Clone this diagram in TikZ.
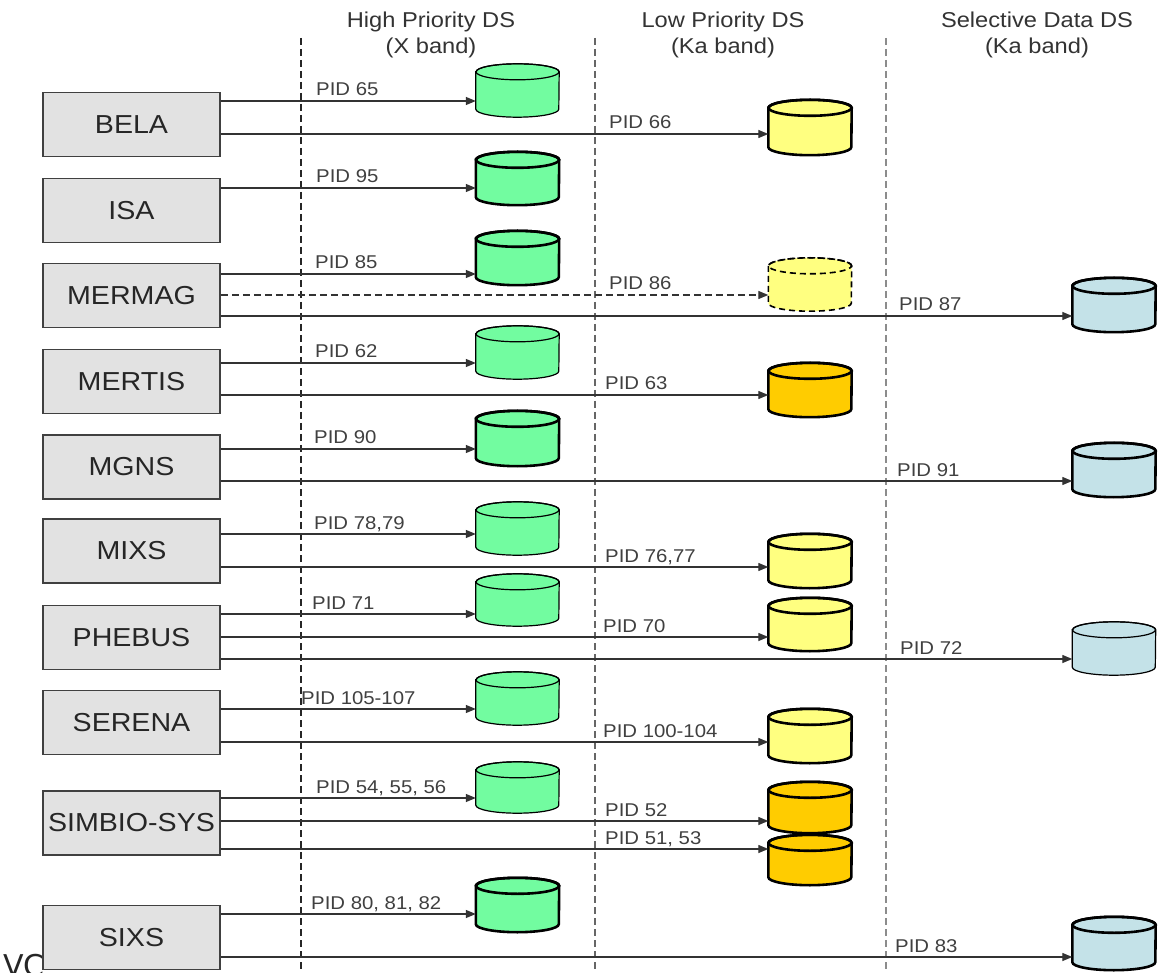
\documentclass[tikz,border=0pt]{standalone}
\usepackage{fontspec}
\setmainfont{Liberation Sans}[FakeStretch=1.1]
\newfontfamily\vcfont{DejaVu Sans}
\usetikzlibrary{arrows.meta,calc,fit}
\definecolor{dsgreen}{RGB}{114,252,160}
\definecolor{dsyellow}{RGB}{255,255,128}
\definecolor{dsorange}{RGB}{255,204,0}
\definecolor{dsblue}{RGB}{196,226,232}
\definecolor{boxgray}{RGB}{226,226,226}
\tikzset{
  instr/.style={draw=black!75, line width=1.5pt, fill=boxgray, minimum width=177pt,
    minimum height=64pt, inner sep=0pt, font=\fontsize{26}{30}\selectfont, text=black!85},
  flow/.style={draw=black!80, line width=1.3pt, -{Triangle[length=10pt,width=8pt]}},
  pid/.style={anchor=base west, inner sep=0pt, font=\fontsize{18.5}{22}\selectfont, text=black!75},
  thincyl/.style={draw=black, line width=1.2pt},
  thickcyl/.style={draw=black, line width=2.6pt},
  dashcyl/.style={draw=black, line width=1.6pt, dash pattern=on 6pt off 4pt},
  sepline/.style={line width=1.3pt, dash pattern=on 7pt off 4pt},
  hdr/.style={align=center, inner sep=0pt, font=\fontsize{21.5}{26}\selectfont, text=black!80}
}
% #1 name, #2 centre x, #3 top y, #4 bottom y, #5 fill, #6 style
\newcommand\dbcyl[6]{%
  \node[fit={(#2-41.5,#3) (#2+41.5,#4)}, inner sep=0pt] (#1) {};
  \draw[#6, fill=#5] ([yshift=-8pt]#1.north west) -- ([yshift=8pt]#1.south west)
    arc[start angle=180, end angle=360, x radius=41.5pt, y radius=8pt]
    -- ([yshift=-8pt]#1.north east)
    arc[start angle=0, end angle=180, x radius=41.5pt, y radius=8pt] -- cycle;
  \draw[#6] ([yshift=-8pt]#1.north) ellipse[x radius=41.5pt, y radius=8pt];
}
% #1 source, #2 target, #3 y, #4 label x, #5 label, #6 label name, #7 extra style
\newcommand\flowline[7]{%
  \draw[flow,#7] (#1.east |- 0,#3) -- (#2.west |- 0,#3);
  \node[pid] (#6) at (#4,#3-5) {#5};
}
\begin{document}
\begin{tikzpicture}[x=1pt,y=-1pt]
\useasboundingbox (0,0) rectangle (1165,973);
\fill[white] (0,0) rectangle (1165,973);

% headers
\node[hdr] (h1) at (431,35) {High Priority DS\\(X band)};
\node[hdr] (h2) at (723,35) {Low Priority DS\\(Ka band)};
\node[hdr] (h3) at (1037,35) {Selective Data DS\\(Ka band)};

% separators
\coordinate (s1t) at (301,38); \coordinate (s1b) at (301,975);
\coordinate (s2t) at (595,38); \coordinate (s2b) at (595,975);
\coordinate (s3t) at (886,38); \coordinate (s3b) at (886,975);
\draw[sepline, draw=black!85] (s1t) -- (s1b);
\draw[sepline, draw=black!60] (s2t) -- (s2b);
\draw[sepline, draw=black!45] (s3t) -- (s3b);

% text cut off at the lower edge, as in the reference
\node[anchor=north west, inner sep=0pt, font=\vcfont\fontsize{30}{34}\selectfont, text=black!85] (vc) at (3,954) {VC};

% instruments
\node[instr] (bela)   at (131.5,124.5) {BELA};
\node[instr] (isa)    at (131.5,210.5) {ISA};
\node[instr] (mermag) at (131.5,295.5) {MERMAG};
\node[instr] (mertis) at (131.5,381.5) {MERTIS};
\node[instr] (mgns)   at (131.5,467)   {MGNS};
\node[instr] (mixs)   at (131.5,551)   {MIXS};
\node[instr] (phebus) at (131.5,637.5) {PHEBUS};
\node[instr] (serena) at (131.5,722.5) {SERENA};
\node[instr] (simbio) at (131.5,823)   {SIMBIO-SYS};
\node[instr] (sixs)   at (131.5,937.5) {SIXS};

% high priority stores
\dbcyl{g1}{517.5}{64}{117}{dsgreen}{thincyl}
\dbcyl{g2}{517.5}{152}{205}{dsgreen}{thickcyl}
\dbcyl{g3}{517.5}{231}{285}{dsgreen}{thickcyl}
\dbcyl{g4}{517.5}{326}{379}{dsgreen}{thincyl}
\dbcyl{g5}{517.5}{411}{466}{dsgreen}{thickcyl}
\dbcyl{g6}{517.5}{502}{555}{dsgreen}{thincyl}
\dbcyl{g7}{517.5}{574}{626}{dsgreen}{thincyl}
\dbcyl{g8}{517.5}{672}{725}{dsgreen}{thincyl}
\dbcyl{g9}{517.5}{762}{813}{dsgreen}{thincyl}
\dbcyl{g10}{517.5}{878}{932}{dsgreen}{thickcyl}

% low priority stores
\dbcyl{y1}{810}{100}{155}{dsyellow}{thickcyl}
\dbcyl{y2}{810}{258}{311}{dsyellow}{dashcyl}
\dbcyl{o1}{810}{363}{417}{dsorange}{thickcyl}
\dbcyl{y3}{810}{534}{588}{dsyellow}{thickcyl}
\dbcyl{y4}{810}{598}{651}{dsyellow}{thickcyl}
\dbcyl{y5}{810}{709}{763}{dsyellow}{thickcyl}
\dbcyl{o2}{810}{782}{833}{dsorange}{thickcyl}
\dbcyl{o3}{810}{835}{885}{dsorange}{thickcyl}

% selective data stores
\dbcyl{b1}{1114}{278}{332}{dsblue}{thickcyl}
\dbcyl{b2}{1114}{443}{497}{dsblue}{thickcyl}
\dbcyl{b3}{1114}{622}{675}{dsblue}{thincyl}
\dbcyl{b4}{1114}{917}{970}{dsblue}{thickcyl}

% flows
\flowline{bela}{g1}{101}{316}{PID 65}{p65}{}
\flowline{bela}{y1}{134}{609}{PID 66}{p66}{}
\flowline{isa}{g2}{188}{316}{PID 95}{p95}{}
\flowline{mermag}{g3}{274}{315}{PID 85}{p85}{}
\flowline{mermag}{y2}{295}{609}{PID 86}{p86}{dash pattern=on 7pt off 4pt}
\flowline{mermag}{b1}{316}{899}{PID 87}{p87}{}
\flowline{mertis}{g4}{363}{315}{PID 62}{p62}{}
\flowline{mertis}{o1}{395}{605}{PID 63}{p63}{}
\flowline{mgns}{g5}{449}{314}{PID 90}{p90}{}
\flowline{mgns}{b2}{481}{897}{PID 91}{p91}{}
\flowline{mixs}{g6}{534}{314}{PID 78,79}{p78}{}
\flowline{mixs}{y3}{567}{605}{PID 76,77}{p76}{}
\flowline{phebus}{g7}{614}{312}{PID 71}{p71}{}
\flowline{phebus}{y4}{637}{603}{PID 70}{p70}{}
\flowline{phebus}{b3}{659}{900}{PID 72}{p72}{}
\flowline{serena}{g8}{709}{301}{PID 105-107}{p105}{}
\flowline{serena}{y5}{742}{603}{PID 100-104}{p100}{}
\flowline{simbio}{g9}{798}{316}{PID 54, 55, 56}{p54}{}
\flowline{simbio}{o2}{821}{605}{PID 52}{p52}{}
\flowline{simbio}{o3}{849}{605}{PID 51, 53}{p51}{}
\flowline{sixs}{g10}{914}{311}{PID 80, 81, 82}{p80}{}
\flowline{sixs}{b4}{957}{895}{PID 83}{p83}{}
\end{tikzpicture}
\end{document}
